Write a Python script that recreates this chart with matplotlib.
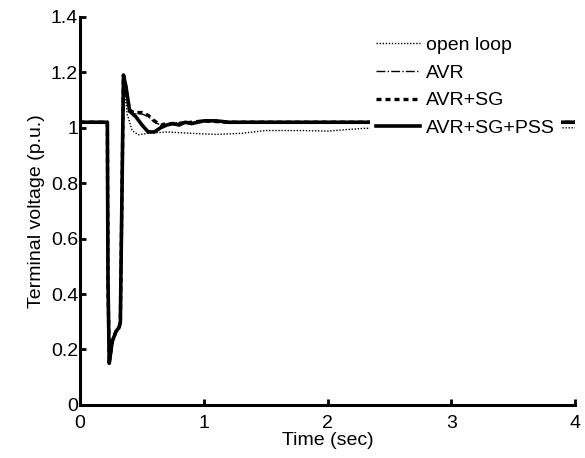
import matplotlib
matplotlib.use('Agg')
import matplotlib.pyplot as plt

plt.rcParams['font.family'] = ['Liberation Sans', 'DejaVu Sans']

# common pre-fault / fault part
t_fault = [0.0, 0.22, 0.225, 0.235, 0.26, 0.29, 0.315, 0.325]
v_fault = [1.02, 1.02, 0.45, 0.15, 0.23, 0.265, 0.28, 0.30]

# open loop
t_open = t_fault + [0.35, 0.38, 0.42, 0.47, 0.55, 0.7, 0.9, 1.1, 1.3, 1.5, 1.8, 2.0, 2.2, 2.3, 4.0]
v_open = v_fault + [1.17, 1.05, 0.99, 0.975, 0.98, 0.985, 0.98, 0.976, 0.98, 0.99, 0.99, 0.988, 0.995, 0.998, 1.0]

# AVR
t_avr = t_fault + [0.35, 0.37, 0.4, 0.45, 0.5, 0.55, 0.6, 0.65, 0.7, 0.8, 0.9, 1.0, 1.2, 1.5, 2.0, 4.0]
v_avr = v_fault + [1.19, 1.13, 1.07, 1.05, 1.05, 1.04, 1.02, 1.01, 1.01, 1.02, 1.02, 1.025, 1.02, 1.02, 1.02, 1.02]

# AVR+SG
t_sg = t_fault + [0.35, 0.37, 0.4, 0.45, 0.5, 0.55, 0.6, 0.65, 0.7, 0.8, 0.9, 1.0, 1.2, 1.5, 2.0, 4.0]
v_sg = v_fault + [1.19, 1.14, 1.06, 1.055, 1.055, 1.045, 1.025, 1.01, 1.015, 1.015, 1.02, 1.025, 1.02, 1.02, 1.02, 1.02]

# AVR+SG+PSS
t_pss = t_fault + [0.35, 0.37, 0.4, 0.45, 0.5, 0.55, 0.6, 0.65, 0.7, 0.75, 0.8, 0.85, 0.9, 0.95, 1.0, 1.1, 1.2, 1.5, 2.0, 4.0]
v_pss = v_fault + [1.19, 1.15, 1.06, 1.04, 1.01, 0.985, 0.985, 1.0, 1.01, 1.015, 1.01, 1.02, 1.015, 1.02, 1.025, 1.025, 1.02, 1.02, 1.02, 1.02]

fig = plt.figure(figsize=(5.85, 4.58), dpi=100)
ax = fig.add_axes([0.137, 0.116, 0.846, 0.847])

ax.plot(t_open, v_open, color='black', linestyle=(0, (1, 1.2)), linewidth=1.0, label='open loop')
ax.plot(t_avr, v_avr, color='black', linestyle='-.', linewidth=1.0, label='AVR')
ax.plot(t_sg, v_sg, color='black', linestyle=(0, (1.5, 1.2)), linewidth=2.4, label='AVR+SG')
ax.plot(t_pss, v_pss, color='black', linestyle='-', linewidth=2.6, label='AVR+SG+PSS')

ax.set_xlim(0, 4)
ax.set_ylim(0, 1.4)
ax.set_xticks([0, 1, 2, 3, 4])
ax.set_yticks([0, 0.2, 0.4, 0.6, 0.8, 1.0, 1.2, 1.4])
ax.set_yticklabels(['0', '0.2', '0.4', '0.6', '0.8', '1', '1.2', '1.4'])
ax.tick_params(direction='in', length=4, width=2, labelsize=14)
ax.tick_params(axis='y', pad=1.5)
ax.tick_params(axis='x', pad=7)
for s in ['top', 'right']:
    ax.spines[s].set_visible(False)
for s in ['left', 'bottom']:
    ax.spines[s].set_linewidth(2.2)

ax.set_xlabel('Time (sec)', fontsize=14, labelpad=0)
ax.set_ylabel('Terminal voltage (p.u.)', fontsize=14, labelpad=4)

leg = ax.legend(loc='upper right', bbox_to_anchor=(0.991, 0.99), fontsize=14,
                handlelength=2.3, handletextpad=0.3, labelspacing=0.52,
                frameon=True, fancybox=False, framealpha=1, borderpad=0.3)
leg.get_frame().set_edgecolor('none')
leg.get_frame().set_facecolor('white')

fig.savefig('out.png', dpi=100)
